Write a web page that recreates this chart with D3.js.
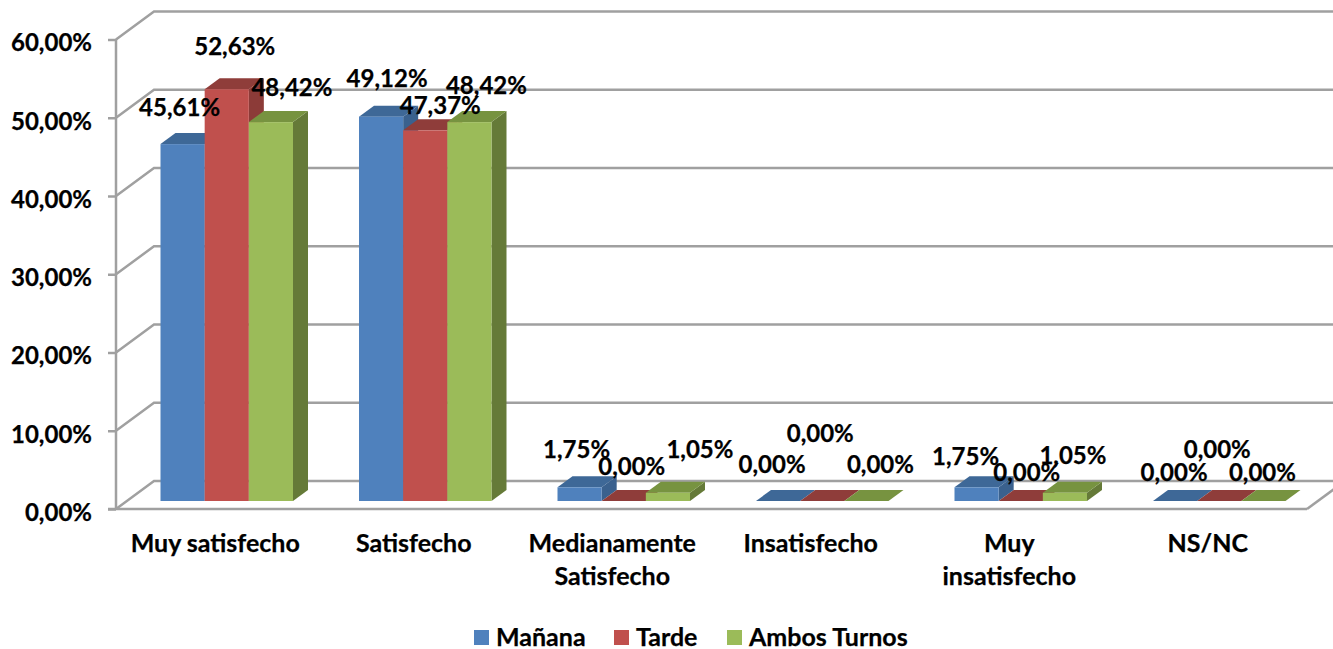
<!DOCTYPE html>
<html>
<head>
<meta charset="utf-8">
<script src="https://cdnjs.cloudflare.com/ajax/libs/d3/7.8.5/d3.min.js"></script>
<style>
  html, body { margin: 0; padding: 0; background: #fff; overflow: hidden; }
  text { font-family: Lato, "Open Sans", sans-serif; font-weight: 700; fill: #000; stroke: #000; stroke-width: 0.25px; }
  .domain { display: none; }
</style>
</head>
<body>
<div id="chart"></div>
<script>
// values
var categories = ["Muy satisfecho", "Satisfecho", "Medianamente Satisfecho", "Insatisfecho", "Muy insatisfecho", "NS/NC"];
var seriesNames = ["Mañana", "Tarde", "Ambos Turnos"];
var manana = [45.61, 49.12, 1.75, 0, 1.75, 0];
var tarde = [52.63, 47.37, 0, 0, 0, 0];
var ambos = [48.42, 48.42, 1.05, 0, 1.05, 0];
var yTicks = [0, 10, 20, 30, 40, 50, 60];

var series = [manana, tarde, ambos];
var colors = [
  {front: "#4f81bd", top: "#3e6897", side: "#3a618e"},
  {front: "#c0504d", top: "#8f3d3a", side: "#8c3b38"},
  {front: "#9bbb59", top: "#779340", side: "#657a38"}
];

var width = 1333, height = 649;
var gridColor = "#a0a0a0";
var wall = {dx: 38, dy: -28};   // depth of the chart box
var depth = {dx: 15, dy: -11};  // depth of one bar
var barLift = 8;

var svg = d3.select("#chart").append("svg")
    .attr("width", width)
    .attr("height", height)
    .style("display", "block");

var x0 = d3.scaleBand().domain(categories).range([116, 1307]);
var x1 = d3.scaleBand().domain([0, 1, 2]).range([44.5, 177]);
var y = d3.scaleLinear().domain([0, 60]).range([509, 39.5]);

var fmt = d3.formatLocale({decimal: ",", thousands: ".", grouping: [3], currency: ["", ""]}).format(".2f");
function pct(v) { return fmt(v) + "%"; }

// walls: back grid lines, diagonals and floor
var grid = svg.append("g").attr("fill", "none").attr("stroke", gridColor).attr("stroke-width", 2.5);
yTicks.forEach(function(t) {
  grid.append("path").attr("d", d3.line()([
    [116, y(t)], [116 + wall.dx, y(t) + wall.dy], [width + 5, y(t) + wall.dy]
  ]));
});
grid.append("path").attr("d", d3.line()([
  [1307, y(0)], [1307 + wall.dx, y(0) + wall.dy]
]));

// y axis
var yAxis = svg.append("g")
    .attr("transform", "translate(116,0)")
    .call(d3.axisLeft(y).tickValues(yTicks).tickSize(8).tickPadding(16).tickFormat(pct));
yAxis.selectAll("line").attr("stroke", gridColor).attr("stroke-width", 2.5);
yAxis.selectAll("text").attr("font-size", 24).attr("dy", "0.47em");
yAxis.append("line").attr("y1", y(60)).attr("y2", y(0)).attr("stroke", gridColor).attr("stroke-width", 2.5);

// x axis
var xAxis = svg.append("g")
    .attr("transform", "translate(0," + y(0) + ")")
    .call(d3.axisBottom(x0).tickSize(0).tickFormat(""));
xAxis.append("line").attr("x1", 108).attr("x2", 1307).attr("stroke", gridColor).attr("stroke-width", 2.5);

var xLabels = {
  "Medianamente Satisfecho": ["Medianamente", "Satisfecho"],
  "Muy insatisfecho": ["Muy", "insatisfecho"]
};
categories.forEach(function(c) {
  var lines = xLabels[c] || [c];
  var t = svg.append("text")
      .attr("text-anchor", "middle")
      .attr("font-size", 25);
  lines.forEach(function(l, i) {
    t.append("tspan")
      .attr("x", x0(c) + x0.bandwidth() / 2)
      .attr("y", 552 + i * 33)
      .text(l);
  });
});

// bars, one series after the other so the next front covers the previous side
var barW = x1.bandwidth();
categories.forEach(function(c, ci) {
  var g = svg.append("g").attr("transform", "translate(" + x0(c) + ",0)");
  series.forEach(function(vals, si) {
    var xl = x1(si), xr = xl + barW;
    var base = y(0) - barLift;
    var top = y(vals[ci]) - barLift;
    var col = colors[si];
    var line = d3.line();
    if (vals[ci] > 0) {
      g.append("path").attr("fill", col.side).attr("d", line([
        [xr, base], [xr + depth.dx, base + depth.dy], [xr + depth.dx, top + depth.dy], [xr, top]
      ]) + "Z");
    }
    g.append("path").attr("fill", col.top).attr("d", line([
      [xl, top], [xl + depth.dx, top + depth.dy], [xr + depth.dx, top + depth.dy], [xr, top]
    ]) + "Z");
    g.append("rect")
      .attr("x", xl)
      .attr("y", top)
      .attr("width", barW)
      .attr("height", base - top)
      .attr("fill", col.front);
  });
});

// the data labels were dragged by hand in the original, so each has its own nudge
// one row per category, one [dx, dy] per series, measured from the top of the bar
var labelNudge = [
  [[-3, -28], [8, -34], [21, -26]],
  [[6, -30], [15, -16], [17, -28]],
  [[-3, -29], [8, -26], [32, -35]],
  [[-6, -28], [-2, -59], [14, -28]],
  [[-11, -22], [6, -20], [8, -29]],
  [[-1, -20], [-2, -43], [-1, -20]]
];
var labelGroup = svg.append("g").attr("text-anchor", "middle").attr("font-size", 24);
categories.forEach(function(c, ci) {
  series.forEach(function(vals, si) {
    var n = labelNudge[ci][si];
    labelGroup.append("text")
      .attr("x", x0(c) + x1(si) + barW / 2 + n[0])
      .attr("y", y(vals[ci]) - barLift + n[1])
      .text(pct(vals[ci]));
  });
});

// legend
var legendX = [474, 614, 727];
var legend = svg.append("g");
seriesNames.forEach(function(name, i) {
  legend.append("rect")
    .attr("x", legendX[i]).attr("y", 630)
    .attr("width", 15).attr("height", 15)
    .attr("fill", colors[i].front);
  legend.append("text")
    .attr("x", legendX[i] + 22).attr("y", 646)
    .attr("font-size", 25)
    .text(name);
});
</script>
</body>
</html>
